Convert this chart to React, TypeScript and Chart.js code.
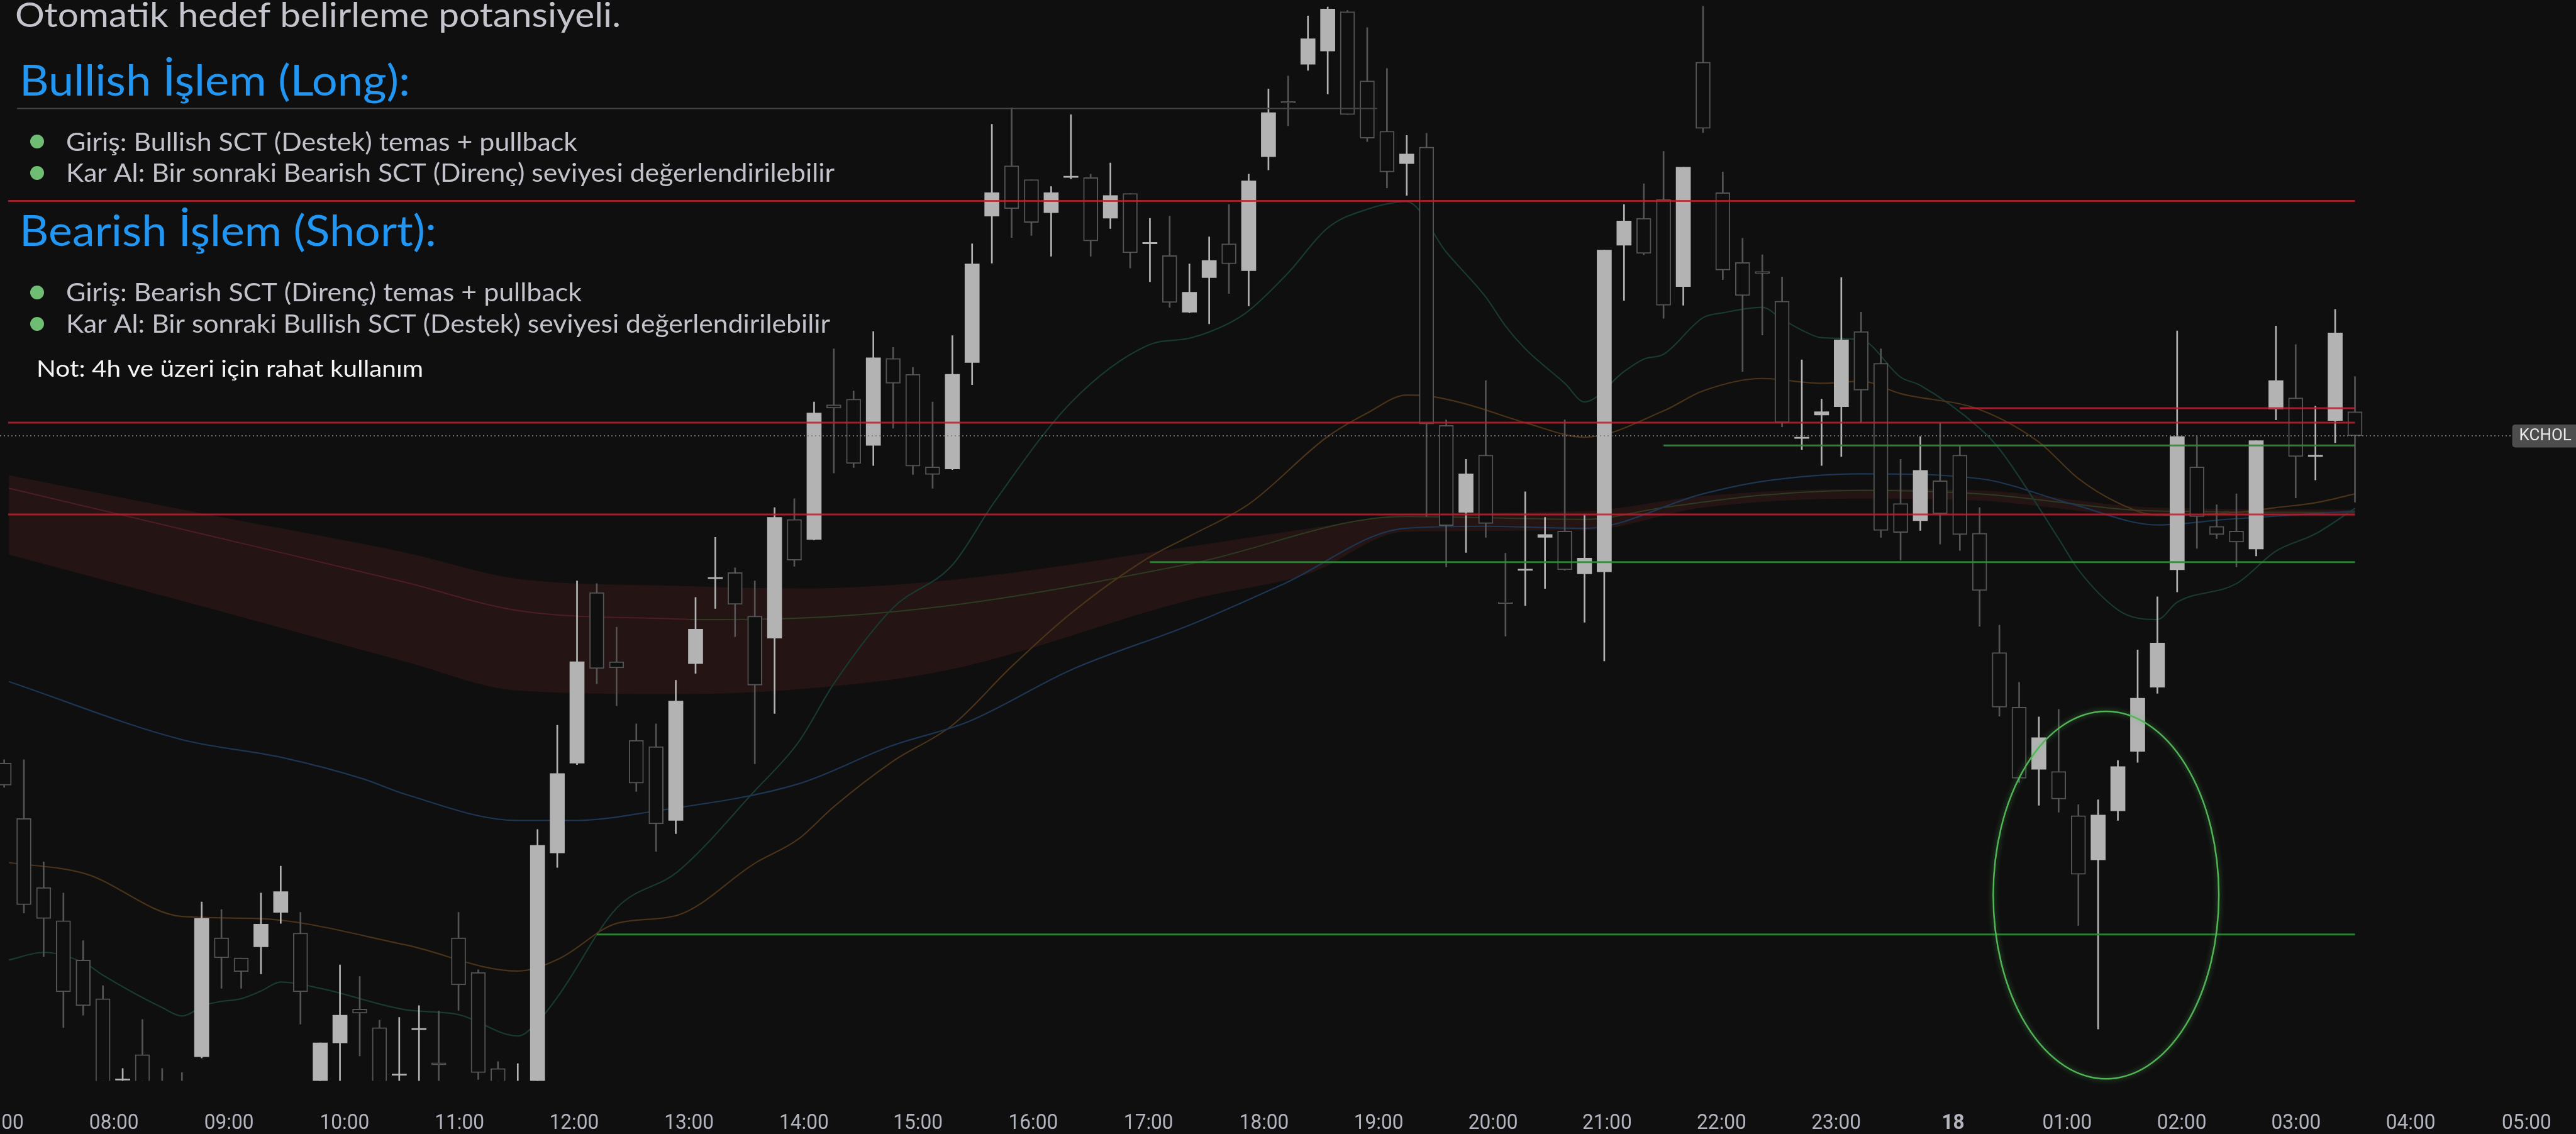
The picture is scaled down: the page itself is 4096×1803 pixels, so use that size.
import React, { useEffect, useRef } from "react";
import { Chart, registerables } from "chart.js";

Chart.register(...registerables);

const W = 4096;
const H = 1803;
const BG = "#0f0f0f";
const BULL = "#b3b3b3";
const BEAR = "#545454";

// ---- candle data (price units) ----
const opens = [
  146.3, 138.3, 128.3, 123.5, 117.8, 112.2, 100.4, 104.1, 98.8, 98.3,
  103.8, 121.0, 118.1, 119.7, 124.7, 121.7, 96.8, 105.8, 110.7, 108.0,
  101.1, 107.7, 102.9, 121.0, 116.0, 102.1, 96.8, 99.8, 133.3, 146.3,
  171.0, 161.0, 149.6, 148.7, 138.0, 160.7, 173.0, 173.9, 167.6, 164.4,
  181.6, 178.7, 198.2, 199.0, 192.3, 204.9, 202.6, 189.2, 188.9, 204.3,
  225.5, 232.8, 230.8, 226.0, 231.1, 231.1, 225.2, 228.8, 221.5, 219.8,
  211.6, 216.6, 221.5, 217.6, 234.1, 242.1, 247.5, 249.4, 255.1, 245.1,
  237.8, 233.1, 235.5, 195.2, 182.6, 190.9, 169.6, 174.2, 179.0, 179.9,
  173.7, 174.0, 221.3, 225.2, 227.9, 215.3, 247.8, 228.9, 218.8, 217.5,
  213.2, 193.3, 196.7, 197.9, 208.8, 204.2, 183.9, 181.4, 187.2, 190.9,
  179.6, 162.3, 154.4, 145.4, 145.1, 138.7, 132.3, 139.4, 148.0, 157.3,
  174.3, 189.2, 180.6, 179.9, 177.3, 197.6, 199.2, 190.7, 195.9, 197.2,
];
const highs = [
  146.8, 146.8, 132.0, 127.5, 120.6, 114.1, 102.1, 109.2, 102.1, 101.5,
  126.2, 125.1, 118.1, 127.5, 131.4, 124.7, 105.8, 117.1, 115.4, 109.1,
  109.5, 111.2, 110.4, 124.7, 116.4, 103.1, 102.8, 136.7, 151.8, 172.7,
  172.3, 166.0, 152.0, 152.0, 158.3, 170.3, 179.0, 174.6, 172.7, 183.3,
  184.6, 198.6, 206.3, 200.2, 208.8, 206.5, 203.6, 198.6, 208.2, 221.5,
  238.8, 241.2, 230.8, 229.8, 240.2, 231.6, 233.2, 228.8, 225.2, 225.5,
  218.6, 222.5, 227.2, 231.6, 243.9, 245.8, 254.5, 255.8, 255.3, 252.8,
  246.9, 237.2, 237.5, 196.0, 190.3, 201.7, 176.7, 185.6, 181.9, 196.0,
  182.3, 220.6, 227.2, 230.2, 234.9, 232.6, 255.9, 231.9, 222.3, 219.9,
  216.7, 204.7, 199.0, 216.6, 211.6, 206.3, 190.3, 193.6, 195.6, 192.3,
  183.3, 166.3, 158.0, 153.0, 154.1, 140.3, 141.0, 146.7, 162.7, 170.4,
  208.9, 193.6, 183.7, 185.3, 193.0, 209.6, 206.9, 198.0, 212.0, 202.3,
];
const lows = [
  142.8, 124.6, 118.3, 108.0, 109.8, 94.8, 99.3, 94.8, 94.8, 94.8,
  103.6, 113.7, 113.7, 115.8, 123.1, 108.5, 94.8, 96.8, 103.9, 94.8,
  96.8, 96.8, 96.8, 110.5, 100.5, 96.8, 95.8, 99.3, 131.2, 146.1,
  157.8, 154.6, 142.2, 133.5, 136.1, 159.3, 168.7, 164.6, 146.2, 153.5,
  174.8, 178.6, 188.3, 189.1, 189.4, 194.8, 188.1, 186.1, 188.8, 201.1,
  218.7, 222.4, 222.7, 219.7, 230.9, 219.7, 223.7, 218.0, 216.0, 212.3,
  211.5, 209.9, 214.3, 212.5, 232.2, 238.6, 246.6, 243.2, 240.2, 236.3,
  229.6, 228.5, 182.0, 174.7, 176.8, 179.0, 164.7, 169.1, 171.6, 174.2,
  166.7, 161.1, 213.3, 219.9, 210.7, 212.6, 237.6, 216.3, 203.0, 208.3,
  195.0, 191.7, 189.4, 190.7, 195.6, 179.0, 175.7, 180.0, 178.0, 177.1,
  166.1, 153.1, 143.5, 140.2, 139.2, 122.8, 107.8, 138.0, 146.4, 156.4,
  171.1, 177.4, 178.8, 174.7, 176.3, 196.0, 184.7, 187.3, 192.7, 184.1,
];
const closes = [
  143.1, 125.8, 123.8, 113.2, 111.2, 96.8, 100.6, 96.8, 96.8, 95.8,
  123.8, 118.1, 116.1, 123.0, 127.7, 113.2, 105.8, 109.8, 110.1, 96.8,
  101.3, 107.9, 102.6, 114.2, 101.5, 98.8, 99.8, 134.4, 144.8, 161.0,
  160.0, 160.1, 143.4, 137.5, 155.3, 165.7, 173.2, 169.3, 157.6, 181.9,
  175.7, 197.0, 197.7, 189.7, 205.0, 201.3, 189.3, 188.1, 202.6, 218.6,
  228.9, 226.6, 224.6, 228.9, 231.3, 221.9, 228.5, 220.2, 221.7, 213.0,
  214.5, 219.1, 218.6, 230.6, 240.5, 241.9, 251.2, 255.5, 240.2, 236.8,
  231.9, 234.5, 195.4, 180.7, 188.2, 181.0, 169.4, 174.4, 179.4, 174.3,
  176.0, 220.6, 224.8, 220.1, 212.6, 232.6, 238.2, 217.7, 214.0, 217.2,
  195.6, 193.5, 197.2, 207.6, 200.3, 180.0, 179.7, 188.7, 182.4, 179.4,
  171.3, 154.4, 144.1, 150.0, 141.1, 130.2, 138.8, 145.8, 155.7, 163.7,
  193.6, 182.0, 179.4, 178.3, 193.0, 201.7, 190.7, 190.9, 208.6, 193.7,
];

// ---- moving averages / ribbon: [candle index, price] ----
const blueMA: [number, number][] = [
  [0.24, 158.1], [9.0, 149.7], [14.1, 147.1], [18.2, 144.0], [20.3, 141.8], [26.0, 138.0],
  [28.9, 138.0], [32.8, 139.3], [40.2, 143.3], [44.9, 148.8], [48.8, 152.3], [54.0, 159.8],
  [60.1, 166.4], [64.8, 172.3], [70.9, 180.3], [75.0, 180.6], [80.0, 180.3], [86.0, 185.3],
  [89.0, 187.1], [94.0, 188.2], [100.0, 187.5], [104.7, 183.8], [109.0, 180.8], [112.5, 181.6],
  [119.0, 182.8],
];
const orangeMA: [number, number][] = [
  [0.24, 131.9], [4.1, 130.3], [9.0, 124.1], [12.8, 123.8], [20.3, 120.0], [26.0, 116.2],
  [28.1, 118.0], [31.0, 123.1], [34.1, 124.3], [38.0, 131.8], [40.2, 135.3], [42.0, 140.0],
  [45.0, 146.6], [48.0, 151.8], [51.0, 160.3], [54.0, 168.0], [57.9, 176.0], [60.1, 179.3],
  [63.0, 183.8], [67.0, 193.6], [69.0, 197.0], [71.0, 199.6], [72.0, 199.5], [74.0, 198.3],
  [77.1, 195.5], [80.0, 193.5], [84.0, 197.3], [86.0, 200.2], [89.0, 202.0], [92.0, 201.3],
  [94.0, 201.6], [96.0, 199.8], [100.0, 197.5], [103.0, 192.8], [105.0, 187.5], [107.0, 184.0],
  [109.0, 182.2], [113.0, 182.6], [115.0, 183.3], [117.0, 184.0], [119.0, 185.3],
];
const tealMA: [number, number][] = [
  [0.24, 117.8], [2.0, 118.9], [4.1, 117.3], [5.0, 115.6], [8.0, 110.9], [9.0, 109.7],
  [10.2, 111.3], [11.0, 111.8], [12.0, 112.2], [13.0, 113.3], [14.0, 114.6], [16.0, 113.7],
  [20.3, 110.6], [23.0, 109.9], [26.0, 106.8], [27.0, 108.8], [28.1, 112.8], [31.0, 125.3],
  [34.1, 130.6], [38.0, 142.3], [40.2, 149.3], [42.0, 157.8], [45.0, 168.8], [48.0, 175.0],
  [50.1, 184.0], [54.0, 198.5], [57.9, 206.8], [60.1, 207.9], [62.0, 210.0], [63.0, 211.8],
  [65.0, 217.3], [67.0, 223.8], [69.0, 226.5], [71.0, 227.6], [73.0, 220.3], [75.0, 213.8],
  [76.0, 209.6], [77.0, 206.3], [79.0, 201.3], [80.0, 198.6], [82.0, 203.0], [83.0, 204.8],
  [84.0, 205.5], [86.0, 210.8], [87.0, 211.5], [89.0, 212.3], [90.0, 210.6], [91.0, 209.0],
  [92.0, 207.9], [94.0, 207.6], [96.0, 202.2], [97.0, 201.0], [100.0, 194.8], [101.0, 191.8],
  [104.0, 178.8], [105.0, 174.3], [107.0, 168.5], [108.0, 167.3], [109.0, 167.1], [110.0, 169.6],
  [113.0, 172.3], [115.0, 177.0], [117.0, 179.5], [119.0, 183.2],
];
const ribbonTop: [number, number][] = [
  [0.24, 188.0], [10.3, 182.3], [20.3, 176.8], [26.0, 173.0], [33.9, 172.0], [40.2, 171.6],
  [47.8, 172.8], [60.1, 177.7], [66.1, 180.3], [70.9, 182.3], [80.0, 182.8], [86.0, 185.0],
  [94.0, 186.0], [100.0, 185.8], [109.0, 183.3], [119.0, 183.0],
];
const ribbonBottom: [number, number][] = [
  [0.24, 176.5], [10.3, 168.8], [20.3, 161.0], [26.0, 156.8], [33.9, 156.3], [40.2, 157.0],
  [47.8, 159.8], [60.1, 170.0], [66.1, 173.8], [70.9, 179.8], [80.0, 180.0], [86.0, 183.3],
  [94.0, 184.6], [100.0, 184.3], [109.0, 182.0], [119.0, 182.0],
];
const ribbonMidBear: [number, number][] = [
  [0.24, 186.1], [10.3, 179.3], [20.3, 172.5], [26.0, 168.4], [34.7, 167.1],
];
const ribbonMidBull: [number, number][] = [
  [34.7, 167.1], [39.1, 167.2], [47.8, 169.1], [60.1, 175.2], [70.9, 182.0], [80.0, 181.6],
  [84.0, 183.3], [89.0, 185.1], [94.0, 185.8], [100.0, 185.3], [109.0, 182.8], [119.0, 182.6],
];

// ---- SCT levels: [from index, to index, price] ----
const resistanceLevels: [number, number, number][] = [
  [0.2, 119, 227.7], [0.2, 119, 195.6], [0.2, 119, 182.3], [99, 119, 197.7],
];
const supportLevels: [number, number, number][] = [
  [30, 119, 121.5], [58, 119, 175.4], [84, 119, 192.3],
];
const guideLevel: [number, number, number] = [0.65, 69.5, 241.1];
const priceLineEnd = 126.96;

// ---- highlighted zone (ellipse): center index / price and radii ----
const zoneCenter = [106.4, 127.2];
const zoneRadius = [5.71, 26.6];

// ---- time axis ----
const timeLabels = [
  "07:00", "08:00", "09:00", "10:00", "11:00", "12:00", "13:00", "14:00", "15:00", "16:00",
  "17:00", "18:00", "19:00", "20:00", "21:00", "22:00", "23:00", "18", "01:00", "02:00",
  "03:00", "04:00", "05:00",
];
const timeLabelIndex = [
  -0.26, 5.56, 11.38, 17.23, 23.05, 28.85, 34.67, 40.49, 46.26, 52.09,
  57.93, 63.78, 69.58, 75.37, 81.14, 86.94, 92.74, 98.66, 104.43, 110.23,
  116.02, 121.82, 127.69,
];

// ---- texts ----
const titleText = "Otomatik hedef belirleme potansiyeli.";
const longTitle = "Bullish İşlem (Long):";
const longBullets = [
  "Giriş: Bullish SCT (Destek) temas + pullback",
  "Kar Al: Bir sonraki Bearish SCT (Direnç) seviyesi değerlendirilebilir",
];
const shortTitle = "Bearish İşlem (Short):";
const shortBullets = [
  "Giriş: Bearish SCT (Direnç) temas + pullback",
  "Kar Al: Bir sonraki Bullish SCT (Destek) seviyesi değerlendirilebilir",
];
const noteText = "Not: 4h ve üzeri için rahat kullanım";
const symbolName = "KCHOL";

const X_MIN = -0.21;
const X_MAX = 130.19;
const Y_MIN = 100.3;
const Y_MAX = 256.8;

function fitText(ctx: CanvasRenderingContext2D, text: string, x: number, base: number, width: number, font: string, color: string) {
  ctx.save();
  ctx.font = font;
  const m = ctx.measureText(text).width;
  ctx.translate(x, base);
  ctx.scale(width / m, 1);
  ctx.fillStyle = color;
  ctx.textAlign = "left";
  ctx.textBaseline = "alphabetic";
  ctx.fillText(text, 0, 0);
  ctx.restore();
}

const bgPlugin = {
  id: "bg",
  beforeDraw(chart: any) {
    const ctx = chart.ctx;
    ctx.save();
    ctx.fillStyle = BG;
    ctx.fillRect(0, 0, chart.width, chart.height);
    ctx.restore();
  },
};

const zonePlugin = {
  id: "zone",
  afterDatasetsDraw(chart: any) {
    const { x, y } = chart.scales;
    const ctx = chart.ctx;
    const cx = x.getPixelForValue(zoneCenter[0]);
    const cy = y.getPixelForValue(zoneCenter[1]);
    const rx = Math.abs(x.getPixelForValue(zoneCenter[0] + zoneRadius[0]) - cx);
    const ry = Math.abs(y.getPixelForValue(zoneCenter[1] + zoneRadius[1]) - cy);
    ctx.save();
    ctx.shadowColor = "rgba(90,200,95,0.6)";
    ctx.shadowBlur = 8;
    ctx.strokeStyle = "#52b457";
    ctx.lineWidth = 2.5;
    ctx.beginPath();
    ctx.ellipse(cx, cy, rx, ry, 0, 0, Math.PI * 2);
    ctx.stroke();
    ctx.restore();
  },
};

const overlayPlugin = {
  id: "overlay",
  afterDraw(chart: any) {
    const ctx = chart.ctx as CanvasRenderingContext2D;
    const { x, y } = chart.scales;
    // header texts
    fitText(ctx, titleText, 24, 43, 963, "400 54px Lato", "#c4c4cc");
    fitText(ctx, longTitle, 31, 152, 621, "400 68px Lato", "#2196f3");
    fitText(ctx, longBullets[0], 105, 240, 813, "400 41px Lato", "#c2c2ca");
    fitText(ctx, longBullets[1], 105, 289, 1222, "400 41px Lato", "#c2c2ca");
    fitText(ctx, shortTitle, 31, 391, 663, "400 68px Lato", "#2196f3");
    fitText(ctx, shortBullets[0], 105, 479, 820, "400 41px Lato", "#c2c2ca");
    fitText(ctx, shortBullets[1], 105, 529, 1215, "400 41px Lato", "#c2c2ca");
    fitText(ctx, noteText, 58, 599, 615, "400 36px Lato", "#f4f4f4");
    ctx.save();
    ctx.fillStyle = "#6fbd72";
    [225, 275, 465, 515].forEach((cy) => {
      ctx.beginPath();
      ctx.arc(59, cy, 11, 0, Math.PI * 2);
      ctx.fill();
    });
    ctx.restore();

    // symbol label at last price
    const py = y.getPixelForValue(closes[closes.length - 1]);
    const lx = x.getPixelForValue(priceLineEnd);
    ctx.save();
    ctx.fillStyle = "#4d4d4d";
    ctx.beginPath();
    (ctx as any).roundRect(lx, py - 18, 160, 36.5, 5);
    ctx.fill();
    ctx.fillStyle = "#e8e8e8";
    ctx.font = "400 26px Roboto";
    ctx.textBaseline = "middle";
    ctx.textAlign = "left";
    ctx.fillText(symbolName, lx + 11, py + 1);
    ctx.restore();

    // time axis labels
    ctx.save();
    ctx.fillStyle = "#b2b5be";
    ctx.textBaseline = "middle";
    ctx.textAlign = "center";
    const ly = 1786;
    timeLabels.forEach((t, i) => {
      const px = x.getPixelForValue(timeLabelIndex[i]);
      ctx.save();
      ctx.translate(px, ly);
      ctx.scale(0.93, 1);
      ctx.font = (t.length <= 2 ? "700 " : "400 ") + "34px Roboto";
      ctx.fillText(t, 0, 0);
      ctx.restore();
    });
    ctx.restore();
  },
};

const up = (i: number) => closes[i] >= opens[i];

function lineDS(pts: [number, number][], color: string, width: number, order: number, extra: any = {}) {
  return {
    type: "line",
    data: pts.map(([px, py]) => ({ x: px, y: py })),
    borderColor: color,
    borderWidth: width,
    pointRadius: 0,
    pointHoverRadius: 0,
    fill: false,
    cubicInterpolationMode: "monotone",
    order,
    ...extra,
  };
}

function levelDS(l: [number, number, number], color: string, width: number, order: number, dash: number[] = []) {
  return {
    type: "line",
    data: [{ x: l[0], y: l[2] }, { x: l[1], y: l[2] }],
    borderColor: color,
    borderWidth: width,
    borderDash: dash,
    pointRadius: 0,
    pointHoverRadius: 0,
    fill: false,
    tension: 0,
    order,
  };
}

export default function App() {
  const ref = useRef<HTMLCanvasElement>(null);
  useEffect(() => {
    document.body.style.margin = "0";
    document.body.style.background = BG;
    document.body.style.overflow = "hidden";
    const lastClose = closes[closes.length - 1];
    const datasets: any[] = [
      levelDS([X_MIN, priceLineEnd, lastClose], "rgba(125,125,125,0.9)", 1.6, 0, [2, 4]),
      ...resistanceLevels.map((l) => levelDS(l, "rgba(190,32,46,0.85)", 3, 1)),
      ...supportLevels.map((l) => levelDS(l, "rgba(50,138,56,0.9)", 3, 1)),
      levelDS(guideLevel, "#454545", 2, 1),
      {
        type: "bar",
        data: opens.map((o, i) => ({ x: i, y: [o, closes[i]] })),
        backgroundColor: (c: any) => (up(c.dataIndex) ? BULL : BG),
        borderColor: BEAR,
        borderWidth: (c: any) => (up(c.dataIndex) ? 0 : 2),
        borderSkipped: false,
        barThickness: 23,
        grouped: false,
        order: 2,
      },
      {
        type: "bar",
        data: opens.map((_, i) => ({ x: i, y: [lows[i], highs[i]] })),
        backgroundColor: (c: any) => (up(c.dataIndex) ? BULL : BEAR),
        borderWidth: 0,
        barThickness: 2,
        grouped: false,
        order: 3,
      },
      lineDS(blueMA, "#1c3654", 2.2, 4),
      lineDS(orangeMA, "#4a3319", 2.2, 4),
      lineDS(tealMA, "#183a33", 2.2, 4),
      lineDS(ribbonMidBear, "#4e1c23", 2, 5),
      lineDS(ribbonMidBull, "#2d3b20", 2, 5),
      lineDS(ribbonTop, "rgba(0,0,0,0)", 0, 6),
      lineDS(ribbonBottom, "rgba(0,0,0,0)", 0, 6, { fill: "-1", backgroundColor: "#241414" }),
    ];
    const chart = new Chart(ref.current!, {
      type: "bar",
      data: { datasets },
      options: {
        animation: false,
        responsive: false,
        devicePixelRatio: 1,
        events: [],
        layout: { padding: { left: 0, right: 0, top: 0, bottom: 84.5 } },
        plugins: { legend: { display: false }, tooltip: { enabled: false } },
        scales: {
          x: { type: "linear", min: X_MIN, max: X_MAX, offset: false, display: false },
          y: { type: "linear", min: Y_MIN, max: Y_MAX, display: false },
        },
      } as any,
      plugins: [bgPlugin, zonePlugin, overlayPlugin],
    } as any);
    return () => chart.destroy();
  }, []);
  return (
    <div style={{ width: W, height: H, background: BG }}>
      <canvas ref={ref} width={W} height={H} style={{ display: "block", width: W, height: H }} />
    </div>
  );
}
